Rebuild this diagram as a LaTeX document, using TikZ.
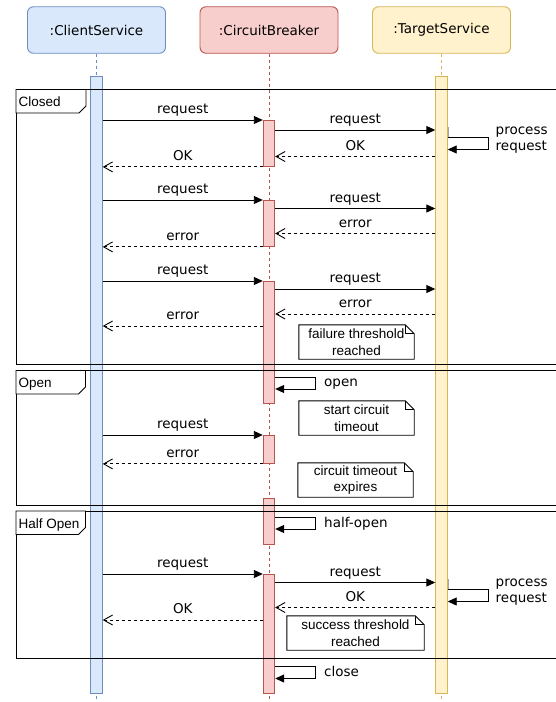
\documentclass[tikz,border=0pt]{standalone}
\usepackage{fontspec}
\setmainfont{DejaVu Sans}
\newfontfamily\notefont{Liberation Sans}
\usetikzlibrary{arrows.meta,calc}
\definecolor{cliFill}{HTML}{DAE8FC}
\definecolor{cliLine}{HTML}{6C8EBF}
\definecolor{cbFill}{HTML}{F8CECC}
\definecolor{cbLine}{HTML}{B85450}
\definecolor{tgFill}{HTML}{FFF2CC}
\definecolor{tgLine}{HTML}{D6B656}
% note with a folded top-right corner: name, width, centre, text
\newcommand{\foldnote}[4]{%
  \node[notebody, minimum width=#2, minimum height=34pt] (#1) at (#3) {#4};
  \draw[noteline] (#1.north west) -- ([xshift=-9pt]#1.north east)
    -- ([yshift=-9pt]#1.north east) -- (#1.south east) -- (#1.south west) -- cycle;
  \draw[line width=0.9pt] ([xshift=-9pt]#1.north east) |- ([yshift=-9pt]#1.north east);
  \node[notebody] at (#1) {#4};
}
\begin{document}
\begin{tikzpicture}[x=1pt,y=-1pt,
  font=\fontsize{13.5}{16}\selectfont,
  head/.style={draw, rounded corners=6pt, line width=0.9pt, minimum width=138pt,
    minimum height=46.5pt, inner sep=0pt},
  bar/.style={draw, line width=0.9pt, inner sep=0pt, minimum width=11.5pt, anchor=north},
  life/.style={line width=0.9pt, dash pattern=on 3pt off 3pt},
  msg/.style={line width=0.9pt, -{Triangle[length=9pt,width=8pt]}},
  ret/.style={line width=0.9pt, dash pattern=on 3pt off 3pt,
    -{Straight Barb[length=9pt,width=10pt]}},
  lab/.style={midway, anchor=base, yshift=6.5pt, inner sep=0pt},
  side/.style={anchor=base west, inner sep=0pt, align=left},
  frameline/.style={line width=0.9pt},
  tab/.style={line width=0.9pt, fill=white},
  tabtext/.style={anchor=base west, inner sep=0pt, font=\notefont\fontsize{13.5}{16}\selectfont},
  notebody/.style={inner sep=0pt, align=center, font=\notefont\fontsize{13.5}{16.5}\selectfont},
  noteline/.style={line width=0.9pt, fill=white}
]
\useasboundingbox (0,0) rectangle (555,702);

% participants
\node[head, fill=cliFill, draw=cliLine] (cli) at (96.5,30) {:ClientService};
\node[head, fill=cbFill, draw=cbLine] (cb) at (269,30) {:CircuitBreaker};
\node[head, fill=tgFill, draw=tgLine] (tg) at (441.5,30) {:TargetService};

% lifelines
\coordinate (endline) at (0,702);
\draw[life, draw=cliLine] (cli.south) -- (cli.south |- endline);
\draw[life, draw=cbLine] (cb.south) -- (cb.south |- endline);
\draw[life, draw=tgLine] (tg.south) -- (tg.south |- endline);

% activation bars
\node[bar, fill=cliFill, draw=cliLine, minimum height=617pt] (cbar) at (96.5,76) {};
\node[bar, fill=tgFill, draw=tgLine, minimum height=617pt] (tbar) at (441.5,76) {};
\node[bar, fill=cbFill, draw=cbLine, minimum height=46pt] (b1) at (269,120) {};
\node[bar, fill=cbFill, draw=cbLine, minimum height=46pt] (b2) at (269,200) {};
\node[bar, fill=cbFill, draw=cbLine, minimum height=122pt] (b3) at (269,281) {};
\node[bar, fill=cbFill, draw=cbLine, minimum height=28pt] (b4) at (269,435) {};
\node[bar, fill=cbFill, draw=cbLine, minimum height=46pt] (b5) at (269,498) {};
\node[bar, fill=cbFill, draw=cbLine, minimum height=119pt] (b6) at (269,574) {};

% state frames
\draw[frameline] (556,89.5) -- (16,89.5) -- (16,364.5) -- (556,364.5);
\draw[tab] (16,89.5) -- (86,89.5) -- (86,106) -- (79,113) -- (16,113) -- cycle;
\node[tabtext] (fclosed) at (18.5,106.5) {Closed};

\draw[frameline] (556,370.5) -- (16,370.5) -- (16,505) -- (556,505);
\draw[tab] (16,370.5) -- (85.5,370.5) -- (85.5,387) -- (78.5,394) -- (16,394) -- cycle;
\node[tabtext] (fopen) at (18.5,387.5) {Open};

\draw[frameline] (556,511) -- (16,511) -- (16,658) -- (556,658);
\draw[tab] (16,511) -- (85.5,511) -- (85.5,527.5) -- (78.5,534.5) -- (16,534.5) -- cycle;
\node[tabtext] (fhalf) at (18.5,528) {Half Open};

% closed: success
\draw[msg] (cbar.east |- b1.north) -- node[lab] {request} (b1.north west);
\draw[msg] (b1.east |- 0,130) -- node[lab] {request} (tbar.west |- 0,130);
\draw[gray!70, line width=0.6pt] ([xshift=1pt]tbar.east |- 0,127) -- ([xshift=1pt]tbar.east |- 0,137);
\draw[msg] (tbar.east |- 0,137) -- ++(41,0) |- (tbar.east |- 0,149.5);
\node[side] (pr1) at (495.5,150) {process\\request};
\draw[ret] (tbar.west |- 0,156.5) -- node[lab] {OK} (b1.east |- 0,156.5);
\draw[ret] (b1.south west) -- node[lab] {OK} (cbar.east |- b1.south);

% closed: failure
\draw[msg] (cbar.east |- b2.north) -- node[lab] {request} (b2.north west);
\draw[msg] (b2.east |- 0,208.5) -- node[lab] {request} (tbar.west |- 0,208.5);
\draw[ret] (tbar.west |- 0,233.5) -- node[lab] {error} (b2.east |- 0,233.5);
\draw[ret] (b2.south west) -- node[lab] {error} (cbar.east |- b2.south);

% closed: failure reaching the threshold
\draw[msg] (cbar.east |- b3.north) -- node[lab] {request} (b3.north west);
\draw[msg] (b3.east |- 0,289) -- node[lab] {request} (tbar.west |- 0,289);
\draw[ret] (tbar.west |- 0,314) -- node[lab] {error} (b3.east |- 0,314);
\draw[ret] (b3.west |- 0,326) -- node[lab] {error} (cbar.east |- 0,326);
\foldnote{nfail}{115pt}{356.5,342}{failure threshold\\reached}

% open
\draw[msg] (b3.east |- 0,377) -- ++(40,0) |- (b3.east |- 0,389);
\node[side] (lopen) at (324,386) {open};
\foldnote{nstart}{115pt}{356.5,418}{start circuit\\timeout}
\draw[msg] (cbar.east |- b4.north) -- node[lab] {request} (b4.north west);
\draw[ret] (b4.south west) -- node[lab] {error} (cbar.east |- b4.south);
\foldnote{nexp}{115pt}{355.5,480}{circuit timeout\\expires}

% half open
\draw[msg] (b5.east |- 0,517) -- ++(40,0) |- (b5.east |- 0,529);
\node[side] (lhalf) at (324,527) {half-open};
\draw[msg] (cbar.east |- b6.north) -- node[lab] {request} (b6.north west);
\draw[msg] (b6.east |- 0,582.5) -- node[lab] {request} (tbar.west |- 0,582.5);
\draw[gray!70, line width=0.6pt] ([xshift=1pt]tbar.east |- 0,579) -- ([xshift=1pt]tbar.east |- 0,589);
\draw[msg] (tbar.east |- 0,589) -- ++(41,0) |- (tbar.east |- 0,601.5);
\node[side] (pr2) at (495.5,602) {process\\request};
\draw[ret] (tbar.west |- 0,607.5) -- node[lab] {OK} (b6.east |- 0,607.5);
\draw[ret] (b6.west |- 0,620) -- node[lab] {OK} (cbar.east |- 0,620);
\foldnote{nsucc}{137pt}{355.5,633}{success threshold\\reached}

% back to closed
\draw[msg] (b6.east |- 0,666) -- ++(40,0) |- (b6.east |- 0,678.5);
\node[side] (lclose) at (324,676) {close};
\end{tikzpicture}
\end{document}
